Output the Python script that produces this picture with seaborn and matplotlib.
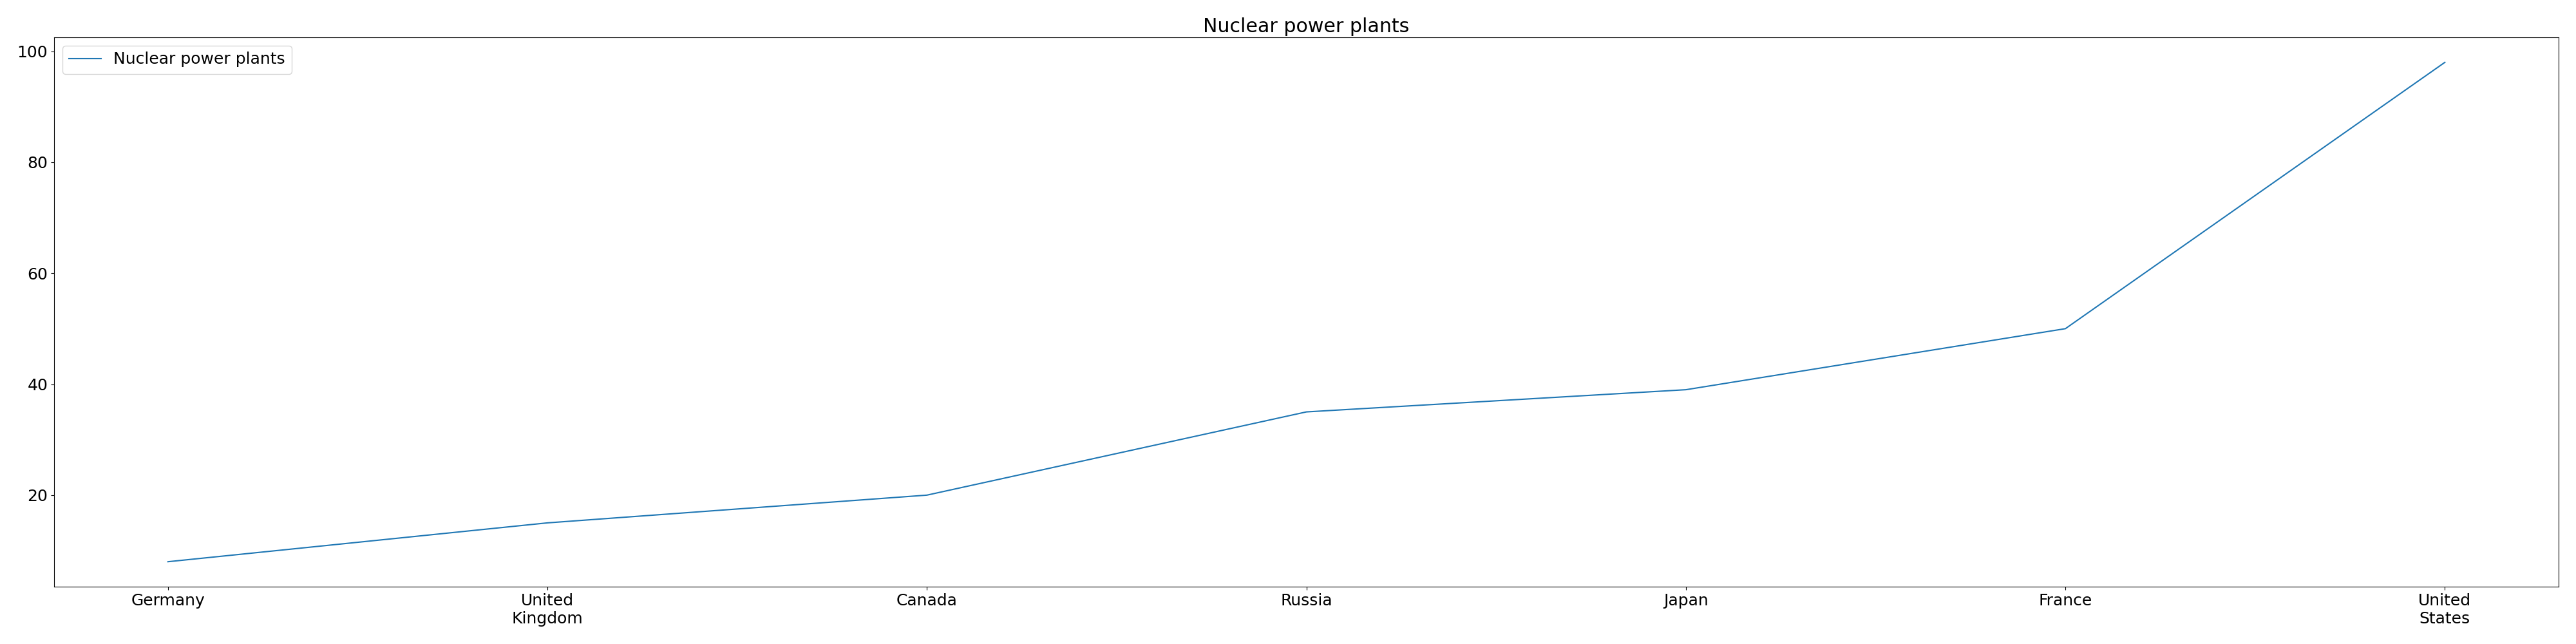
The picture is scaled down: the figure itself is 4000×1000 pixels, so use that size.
import matplotlib
matplotlib.use("Agg")
import matplotlib.pyplot as plt
import pandas as pd
import seaborn as sns

countries = ["Germany", "United\nKingdom", "Canada", "Russia", "Japan", "France", "United\nStates"]
plants = [8, 15, 20, 35, 39, 50, 98]

plt.rcParams.update({"font.size": 18, "font.family": "DejaVu Sans"})

df = pd.DataFrame({"country": countries, "plants": plants})

fig, ax = plt.subplots(figsize=(40, 10), dpi=100)
sns.lineplot(data=df, x="country", y="plants", sort=False, ax=ax,
             label="Nuclear power plants", color="#1f77b4", linewidth=1.5)
ax.set_xlabel("")
ax.set_ylabel("")
ax.set_title("Nuclear power plants")
ax.legend(loc="upper left")
fig.subplots_adjust(left=0.021, right=0.9933, top=0.942, bottom=0.089)
fig.savefig("out.png", dpi=100)
